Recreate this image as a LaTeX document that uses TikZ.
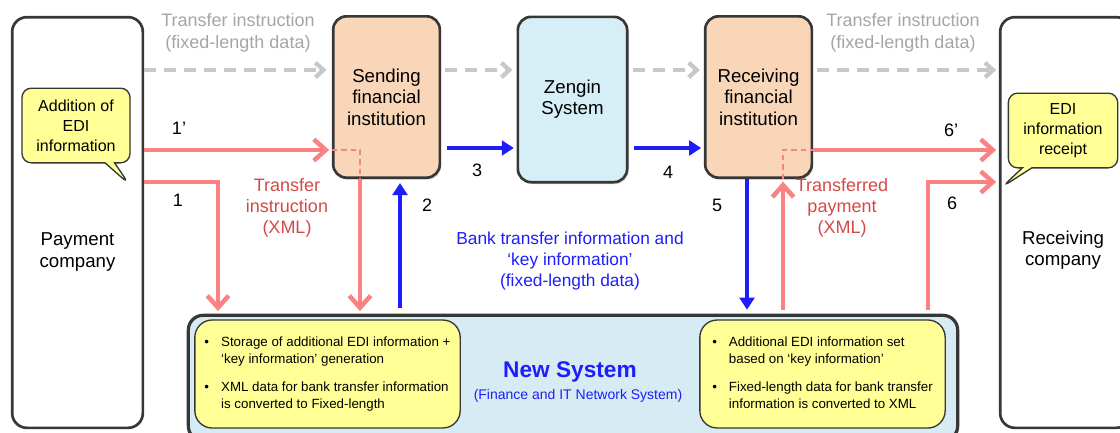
\documentclass[tikz,border=0pt]{standalone}
\usepackage{fontspec}
\setmainfont{Liberation Sans}
\usetikzlibrary{arrows.meta,shapes,positioning,shadows}

\definecolor{peach}{RGB}{250,214,184}
\definecolor{zenblue}{RGB}{214,238,246}
\definecolor{hubblue}{RGB}{214,235,243}
\definecolor{memo}{RGB}{255,255,150}
\definecolor{edge}{RGB}{55,55,55}
\definecolor{salmon}{RGB}{250,130,130}
\definecolor{salmontext}{RGB}{214,72,72}
\definecolor{flowblue}{RGB}{30,30,250}
\definecolor{dashgray}{RGB}{200,200,200}
\definecolor{graytext}{RGB}{165,165,165}

\tikzset{
  party/.style={draw=edge, line width=2pt, rounded corners=11pt, fill=white, minimum width=98pt, minimum height=308pt},
  bank/.style={draw=edge, line width=2pt, rounded corners=10pt, fill=peach, align=center, minimum width=80pt, minimum height=121pt, drop shadow={opacity=0.3, shadow xshift=1pt, shadow yshift=-1.5pt}},
  hub/.style={draw=edge, line width=2.4pt, rounded corners=11pt, fill=hubblue, minimum width=577pt, minimum height=94pt, drop shadow={opacity=0.3, shadow xshift=1pt, shadow yshift=-1.5pt}},
  notebox/.style={draw=edge, line width=1pt, rounded corners=13pt, fill=memo, minimum height=81pt, font=\fontsize{10}{12.5}\selectfont},
  memo/.style={rectangle callout, draw=edge, line width=1pt, fill=memo, rounded corners=7pt, align=center, minimum width=81pt, minimum height=56pt, font=\fontsize{12}{15}\selectfont},
  redarr/.style={draw=salmon, line width=3.4pt, -{Straight Barb[length=9pt,width=16pt]}},
  bluearr/.style={draw=flowblue, line width=2.8pt, -{Triangle[length=9pt,width=11pt]}},
  grayarr/.style={draw=dashgray, line width=3.2pt, dash pattern=on 9pt off 6pt, -{Straight Barb[length=6pt,width=11pt]}},
  reddash/.style={draw=salmon, line width=1pt, dash pattern=on 4pt off 3pt},
  numlabel/.style={font=\fontsize{13.5}{16}\selectfont},
  graylabel/.style={text=graytext, align=center, font=\fontsize{13.5}{16}\selectfont},
  redlabel/.style={text=salmontext, align=center, font=\fontsize{13.5}{16}\selectfont},
}

\begin{document}
\begin{tikzpicture}[x=0.75pt, y=-0.75pt, font=\fontsize{14}{16}\selectfont]
\useasboundingbox (0,0) rectangle (1120,432);

% parties at both ends
\node[party] (payer) at (77.5,222.5) {};
\node (payertxt) at (77.5,252) [align=center] {Payment\\company};
\node[party] (payee) at (1065.5,222.5) {};
\node (payeetxt) at (1063,250) [align=center] {Receiving\\company};

% banks and Zengin
\node[bank] (sendfi) at (386.5,97) {Sending\\financial\\institution};
\node[bank, fill=zenblue, minimum width=82pt, minimum height=124pt] (zengin) at (572.5,99.5) {Zengin\\System};
\node[bank] (recvfi) at (758.5,97) {Receiving\\financial\\institution};

% new system
\node[hub] (newsys) at (573,378) {};
\node[font=\fontsize{17}{20}\selectfont\bfseries, text=flowblue] (hubname) at (570,372) {New System};
\node[font=\fontsize{10.5}{12}\selectfont, text=flowblue, below=-2pt of hubname, xshift=6pt] (hubsub) {(Finance and IT Network System)};

\node[notebox, minimum width=199pt] (noteL) at (327.5,374) {%
  \begin{tabular}{@{}l@{\hspace{9pt}}l@{}}
  \textbullet & Storage of additional EDI information +\\
  & ‘key information’ generation\\[9pt]
  \textbullet & XML data for bank transfer information\\
  & is converted to Fixed-length
  \end{tabular}};
\node[notebox, minimum width=184pt] (noteR) at (822.5,374) {%
  \begin{tabular}{@{}l@{\hspace{9pt}}l@{}}
  \textbullet & Additional EDI information set\\
  & based on ‘key information’\\[9pt]
  \textbullet & Fixed-length data for bank transfer\\
  & information is converted to XML
  \end{tabular}};

% callouts
\node[memo, callout absolute pointer={(129,184)}] (addedi) at (76,125.5) {Addition of\\EDI\\information};
\node[memo, minimum width=82pt, callout absolute pointer={(1002,187)}] (getedi) at (1063,130.5) {EDI\\information\\receipt};

% helper rows and columns
\coordinate (rowG) at (0,70);
\coordinate (rowA) at (0,150);
\coordinate (rowC) at (0,148);
\coordinate (rowB) at (0,182);
\coordinate (col1) at (218,0);
\coordinate (colS) at (360,0);
\coordinate (col2) at (400,0);
\coordinate (col5) at (747,0);
\coordinate (colR) at (783,0);
\coordinate (col6) at (928,0);

% fixed-length flow (grey)
\draw[grayarr, shorten >=4pt] (payer.east |- rowG) -- (sendfi.west |- rowG);
\draw[grayarr, shorten <=3pt, shorten >=3pt] (sendfi.east |- rowG) -- (zengin.west |- rowG);
\draw[grayarr, shorten <=3pt, shorten >=3pt] (zengin.east |- rowG) -- (recvfi.west |- rowG);
\draw[grayarr, shorten <=3pt, shorten >=2pt] (recvfi.east |- rowG) -- (payee.west |- rowG);
\node[graylabel] (grayL) at (238,33) {Transfer instruction\\(fixed-length data)};
\node[graylabel] (grayR) at (903,33) {Transfer instruction\\(fixed-length data)};

% sending side
\draw[redarr, shorten >=2pt] (payer.east |- rowA) -- (sendfi.west |- rowA);
\draw[reddash] (sendfi.west |- rowA) -| (sendfi.south -| colS);
\draw[redarr, shorten >=2pt] (sendfi.south -| colS) -- (newsys.north -| colS);
\draw[redarr, shorten >=2pt] (payer.east |- rowB) -| (newsys.north -| col1);
\draw[bluearr, shorten <=4pt, shorten >=3pt] (newsys.north -| col2) -- (sendfi.south -| col2);
\node[numlabel] (n1p) at (179,128) {1’};
\node[numlabel] (n1) at (178,200) {1};
\node[numlabel] (n2) at (427,205) {2};
\node[redlabel] (redL) at (287,208) {Transfer\\instruction\\(XML)};

% through Zengin
\draw[bluearr, shorten <=4pt, shorten >=2pt] (sendfi.east |- rowC) -- (zengin.west |- rowC);
\draw[bluearr, shorten <=4pt, shorten >=2pt] (zengin.east |- rowC) -- (recvfi.west |- rowC);
\node[numlabel] (n3) at (477,170) {3};
\node[numlabel] (n4) at (668,172) {4};
\node[text=flowblue, align=center, font=\fontsize{13}{15.75}\selectfont] (bluelab) at (570,261) {Bank transfer information and\\‘key information’\\(fixed-length data)};

% receiving side
\draw[bluearr, shorten >=3pt] (recvfi.south -| col5) -- (newsys.north -| col5);
\draw[redarr, shorten <=3pt, shorten >=2pt] (newsys.north -| colR) -- (recvfi.south -| colR);
\draw[reddash] (recvfi.south -| colR) |- (recvfi.east |- rowA);
\draw[redarr, shorten >=2pt] (recvfi.east |- rowA) -- (payee.west |- rowA);
\draw[redarr, shorten <=3pt, shorten >=2pt] (newsys.north -| col6) |- (payee.west |- rowB);
\node[numlabel] (n5) at (717,205) {5};
\node[numlabel] (n6p) at (951,130) {6’};
\node[numlabel] (n6) at (952,203) {6};
\node[redlabel] (redR) at (842,208) {Transferred\\payment\\(XML)};
\end{tikzpicture}
\end{document}
